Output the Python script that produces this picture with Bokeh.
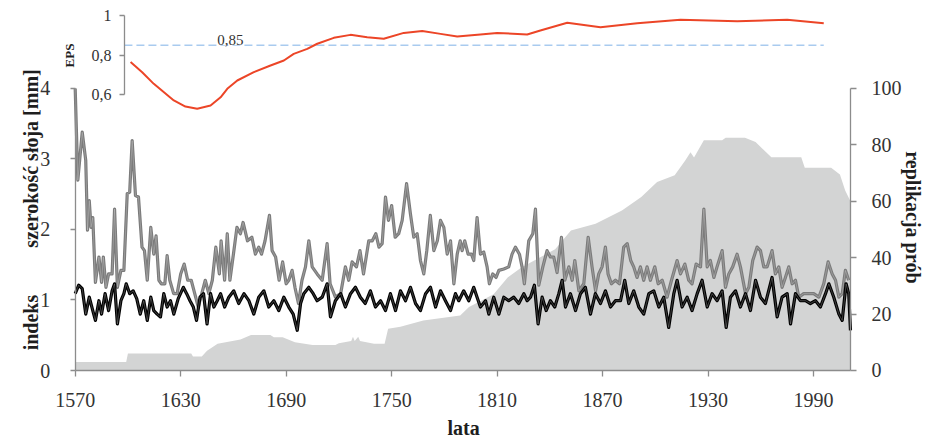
import math
from bokeh.plotting import figure
from bokeh.models import Range1d, LinearAxis, FixedTicker, CustomJSTickFormatter, Label
from bokeh.embed import file_html
from bokeh.resources import INLINE

# ---------------- data ----------------
rw_years = [
    1570, 1571.5, 1574, 1576, 1577, 1578, 1579, 1580, 1581.5, 1583.5,
    1585, 1586, 1587.5, 1589, 1591, 1592.4, 1594, 1596, 1597.7, 1599.6,
    1601, 1602.4, 1604.3, 1606, 1608, 1609.4, 1611, 1613, 1614.7, 1616,
    1617.6, 1619, 1621, 1622.3, 1623.8, 1626, 1628, 1630, 1632, 1634,
    1636, 1638, 1640, 1642, 1644, 1646, 1648, 1650, 1652, 1653,
    1655, 1656.5, 1658, 1660, 1662, 1664, 1665.5, 1668, 1670.5, 1672.5,
    1674.4, 1676, 1678, 1680.5, 1682, 1684, 1686, 1688, 1690, 1691.5,
    1693.4, 1695, 1697, 1699, 1701, 1702.9, 1704.8, 1707.6, 1710.5, 1713.3,
    1715, 1718, 1721, 1723.7, 1725.6, 1727.5, 1730, 1732, 1734, 1737,
    1739, 1741, 1742.8, 1744.6, 1746.5, 1748.2, 1750, 1752, 1754, 1756,
    1758.5, 1760.7, 1762.6, 1764.5, 1766.4, 1768.3, 1770, 1772, 1774, 1776,
    1777.8, 1779.7, 1781.6, 1783.5, 1785.4, 1787.3, 1789, 1790.1, 1791.6, 1793.5,
    1795.4, 1796.7, 1798.6, 1800.5, 1802.4, 1804.3, 1805.6, 1807.5, 1809.4, 1811,
    1813.8, 1816.6, 1818.5, 1820.4, 1822.7, 1824.2, 1825.5, 1828, 1830.3, 1831.8,
    1833.7, 1836, 1838.4, 1840.3, 1842.2, 1844.1, 1846.6, 1848.5, 1850.8, 1852.7,
    1854.2, 1856.5, 1859.3, 1861.8, 1864, 1866, 1867.8, 1869.7, 1871.6, 1873.1,
    1875, 1877.3, 1879.6, 1882, 1884, 1886, 1887.7, 1889.6, 1891.5, 1893.4,
    1895.3, 1897.2, 1899.7, 1901.6, 1903.9, 1906.7, 1909.2, 1912.4, 1914.3, 1916.8,
    1919, 1920.9, 1923.2, 1925.7, 1927.6, 1929.5, 1931.3, 1933.3, 1935.1, 1938,
    1939.9, 1941.8, 1944, 1946.5, 1948.4, 1951.3, 1953.2, 1955.4, 1957.9, 1959.8,
    1961.7, 1963.6, 1966.4, 1968.3, 1970.2, 1972.1, 1974, 1975.9, 1977.8, 1979.7,
    1981.6, 1984.4, 1987.3, 1990.1, 1993, 1995.8, 1998.3, 2000.6, 2002.5, 2004.4,
    2006.3, 2008.1, 2010,
]
ring_width = [
    4.0, 2.7, 3.38, 2.98, 1.99, 2.41, 2.03, 2.17, 1.25, 1.61,
    1.25, 1.61, 1.18, 1.37, 1.37, 2.29, 1.18, 1.42, 1.42, 2.51,
    2.53, 3.26, 2.48, 2.46, 1.75, 1.70, 1.28, 2.03, 1.65, 1.91,
    1.28, 1.23, 1.23, 1.63, 1.28, 1.09, 1.09, 1.37, 1.51, 1.28,
    1.28, 1.09, 0.90, 1.09, 1.28, 1.09, 1.28, 1.75, 1.37, 1.84,
    1.28, 1.94, 1.28, 1.65, 2.03, 1.94, 2.10, 1.84, 1.89, 1.65,
    1.75, 1.65, 1.84, 2.20, 1.70, 1.61, 1.28, 1.54, 1.23, 1.28,
    1.42, 1.18, 0.95, 1.28, 1.47, 1.84, 1.47, 1.37, 1.28, 1.80,
    1.23, 1.04, 1.09, 1.47, 1.28, 1.54, 1.47, 1.70, 1.37, 1.84,
    1.84, 1.94, 1.75, 1.80, 2.46, 2.13, 2.34, 1.89, 1.94, 2.13,
    2.65, 2.22, 1.89, 1.94, 1.56, 1.37, 1.70, 2.20, 1.70, 1.84,
    2.13, 2.03, 1.65, 1.84, 1.23, 1.65, 1.84, 1.70, 1.84, 1.65,
    1.65, 1.56, 2.17, 1.65, 1.68, 1.47, 1.23, 1.37, 1.32, 1.42,
    1.44, 1.47, 1.65, 1.75, 1.65, 1.47, 1.23, 1.84, 1.94, 2.29,
    1.21, 1.47, 1.70, 1.61, 1.61, 1.39, 1.89, 1.28, 1.47, 1.28,
    1.56, 1.13, 1.23, 1.89, 1.47, 1.13, 1.37, 1.47, 1.75, 1.37,
    1.23, 1.28, 1.23, 1.75, 1.80, 1.56, 1.47, 1.32, 1.47, 1.28,
    1.47, 1.28, 1.47, 1.23, 1.28, 1.04, 1.28, 1.56, 1.37, 1.51,
    1.28, 1.23, 1.51, 1.47, 2.29, 1.47, 1.56, 1.32, 1.47, 1.70,
    1.18, 1.37, 1.47, 1.65, 1.47, 1.09, 1.18, 1.56, 1.75, 1.70,
    1.47, 1.47, 1.70, 1.37, 1.47, 1.18, 1.32, 1.47, 1.23, 1.28,
    1.04, 1.09, 1.09, 1.09, 1.04, 1.23, 1.54, 1.37, 1.28, 1.04,
    1.09, 1.42, 1.28,
]

idx_years = [
    1570, 1572, 1574, 1576, 1578, 1580, 1581.5, 1583.5, 1585, 1587,
    1589, 1591, 1592.4, 1594, 1596, 1597.7, 1599, 1601, 1603, 1605,
    1607, 1609, 1611, 1613, 1614.7, 1616.6, 1618.5, 1620.4, 1622.3, 1624.2,
    1626.1, 1628.6, 1631.5, 1633.4, 1635.3, 1637.2, 1639, 1641, 1643, 1645,
    1647, 1648.9, 1650.8, 1652.7, 1655, 1657.4, 1660.2, 1663, 1666, 1668.8,
    1671.6, 1674.4, 1677.3, 1680.1, 1683, 1685.8, 1688.7, 1691.5, 1694, 1696.3,
    1698.2, 1700, 1702.9, 1705.4, 1707.6, 1710.5, 1713.3, 1715.2, 1718, 1721,
    1723.7, 1726.6, 1729.4, 1732.2, 1735, 1737.9, 1740.8, 1743.7, 1746.5, 1749.3,
    1752.2, 1755, 1757.9, 1760.7, 1763.6, 1766.4, 1769.3, 1772.1, 1775, 1777.8,
    1780.6, 1783.5, 1786.3, 1788.2, 1791, 1793.9, 1796.7, 1798.6, 1800.5, 1803.4,
    1805.3, 1808.1, 1811, 1813.8, 1816.6, 1819.5, 1822.3, 1825.2, 1827.1, 1829,
    1831.2, 1833.3, 1835.6, 1837.9, 1840.3, 1842.8, 1845.1, 1847, 1848.9, 1851.7,
    1854.6, 1857.4, 1860.2, 1863.1, 1865.9, 1868.8, 1871.6, 1874.5, 1877.3, 1880.2,
    1882.6, 1884.9, 1887.7, 1890.6, 1893.4, 1896.3, 1899.1, 1902, 1904.8, 1907.6,
    1910.5, 1912.4, 1915.2, 1918.1, 1920.9, 1923.8, 1926.6, 1929.5, 1932.3, 1935.1,
    1938, 1940.3, 1942.7, 1945.6, 1948.4, 1951.3, 1954.1, 1957, 1959.8, 1962.6,
    1966.4, 1969.3, 1972.1, 1975, 1976.9, 1979.7, 1982.5, 1985.4, 1988.2, 1991.1,
    1993.9, 1996.8, 1998.7, 2001.5, 2004.4, 2006.3, 2008.5, 2010, 2011,
]
index_vals = [
    1.09, 1.21, 1.16, 0.80, 1.04, 0.85, 0.71, 0.99, 0.80, 1.09,
    0.85, 1.13, 1.23, 0.66, 0.99, 1.09, 1.23, 1.09, 1.13, 1.02,
    0.80, 0.99, 0.71, 1.04, 0.85, 0.80, 0.76, 1.09, 0.90, 0.99,
    0.80, 1.02, 1.18, 1.09, 0.99, 0.90, 0.71, 1.04, 1.09, 0.66,
    1.09, 0.90, 0.99, 1.09, 0.90, 1.04, 1.13, 0.95, 1.09, 0.99,
    0.80, 1.04, 1.13, 0.90, 0.99, 0.85, 1.04, 0.90, 0.80, 0.57,
    0.95, 1.09, 1.18, 1.09, 0.99, 1.04, 1.23, 0.76, 0.99, 1.09,
    0.90, 1.09, 1.18, 1.04, 0.95, 1.13, 0.90, 0.99, 0.85, 1.09,
    0.85, 1.13, 0.99, 1.18, 0.95, 0.85, 1.09, 1.18, 0.90, 1.13,
    0.99, 0.85, 1.09, 0.99, 1.13, 0.99, 1.18, 1.04, 0.90, 0.99,
    0.80, 1.04, 0.80, 1.04, 0.99, 1.04, 0.95, 1.09, 0.99, 1.04,
    1.21, 0.66, 1.04, 0.85, 0.99, 0.90, 1.09, 1.28, 0.90, 1.09,
    0.85, 1.09, 1.18, 0.80, 1.09, 0.95, 1.13, 0.90, 0.99, 0.99,
    1.28, 0.95, 1.13, 0.90, 0.80, 1.09, 1.13, 0.90, 1.04, 0.61,
    1.09, 1.28, 0.90, 1.04, 0.85, 1.09, 1.28, 0.90, 1.09, 0.99,
    1.13, 0.61, 1.04, 1.13, 0.90, 1.09, 0.85, 1.28, 1.04, 0.95,
    1.32, 0.76, 1.04, 1.09, 0.66, 1.09, 0.99, 0.99, 0.95, 0.99,
    0.90, 1.09, 1.23, 1.04, 0.80, 0.71, 1.23, 1.09, 0.57,
]

rep_years = [
    1570, 1599, 1600, 1636, 1637, 1642, 1645, 1651, 1664, 1670,
    1681, 1683, 1688, 1695, 1705, 1718, 1720, 1727, 1728, 1729,
    1731, 1732, 1740, 1746, 1748, 1755, 1768, 1789, 1794, 1808,
    1816, 1824, 1843, 1852, 1866, 1881, 1892, 1901, 1911, 1917,
    1920, 1922, 1927.6, 1938, 1940, 1951, 1957, 1966, 1983, 1985,
    2000, 2005, 2008, 2011,
]
replication = [
    3, 3, 6, 6, 5, 5, 7, 9.5, 11, 12.6,
    12.6, 11.8, 11.8, 10, 9, 9, 9.7, 10.5, 12, 10.5,
    12, 10.5, 9.5, 9.5, 14.8, 15.5, 17.7, 19.5, 22.5, 27,
    33, 36.6, 43, 49.6, 52, 56.7, 61.5, 66.8, 69.2, 74.5,
    77.4, 75.5, 81.6, 81.6, 82.5, 82.5, 81, 75.6, 75.6, 71.9,
    71.9, 69.5, 63.8, 60,
]

eps_years = [1601.5, 1608.1, 1614.7, 1626.1, 1632.7, 1639.4, 1647, 1652.7,
             1656.5, 1662.2, 1671.6, 1681.1, 1688.7, 1694.3, 1702, 1707.7,
             1717.1, 1726.6, 1736.1, 1745.5, 1756.9, 1767.4, 1777.8, 1787.3,
             1800.5, 1810, 1827.1, 1834.6, 1849.9, 1868.8, 1889.7, 1914.3,
             1946.6, 1975, 1995.8]
eps_vals = [0.764, 0.713, 0.654, 0.570, 0.539, 0.528, 0.544, 0.586,
            0.629, 0.671, 0.713, 0.747, 0.772, 0.806, 0.831, 0.857,
            0.887, 0.902, 0.890, 0.882, 0.912, 0.921, 0.907, 0.894,
            0.904, 0.912, 0.904, 0.924, 0.963, 0.941, 0.961, 0.978,
            0.971, 0.978, 0.961]
eps_threshold = 0.85
threshold_years = [1598, 1995.8]

x_ticks = [1570, 1630, 1690, 1750, 1810, 1870, 1930, 1990]
width_ticks = [0, 1, 2, 3, 4]
rep_ticks = [0, 20, 40, 60, 80, 100]
eps_ticks = [0.6, 0.8, 1.0]

# ---------------- figure ----------------
FONT = "Liberation Serif"
AX = "#8c8c8c"
TXT = "#333333"
TITLE = "#1e1e1e"

p = figure(width=931, height=441, output_backend="svg", toolbar_location=None,
           x_range=Range1d(1527.51, 2057.09), y_range=Range1d(-1.007, 5.248),
           min_border_left=0, min_border_right=0, min_border_top=0,
           min_border_bottom=0, title=None)
p.extra_y_ranges = {"rep": Range1d(-25.18, 131.2), "eps": Range1d(-1.157, 1.076)}
p.grid.visible = False
p.outline_line_color = None
p.background_fill_color = "white"
p.border_fill_color = "white"


def style(ax, size="20px"):
    ax.axis_line_color = AX
    ax.axis_line_width = 1.3
    ax.major_tick_line_color = AX
    ax.major_tick_line_width = 1.3
    ax.minor_tick_line_color = None
    ax.major_tick_in = 0
    ax.major_tick_out = 6
    ax.major_label_text_font = FONT
    ax.major_label_text_font_size = size
    ax.major_label_text_color = TXT


xa = p.xaxis[0]
style(xa)
xa.ticker = FixedTicker(ticks=x_ticks)
xa.bounds = (1570, 2011)
xa.fixed_location = 0
xa.major_label_standoff = 16

ya = p.yaxis[0]
style(ya)
ya.ticker = FixedTicker(ticks=width_ticks)
ya.bounds = (0, 4)
ya.fixed_location = 1570
ya.major_tick_out = 5
ya.major_label_standoff = 20

ra = LinearAxis(y_range_name="rep", fixed_location=2011)
style(ra)
ra.ticker = FixedTicker(ticks=rep_ticks)
ra.bounds = (0, 100)
ra.major_label_standoff = 15
p.add_layout(ra, "right")

ea = LinearAxis(y_range_name="eps", fixed_location=1598)
style(ea, "16px")
ea.ticker = FixedTicker(ticks=eps_ticks)
ea.bounds = (0.6, 1.0)
ea.major_tick_out = 5
ea.major_label_standoff = 8
ea.formatter = CustomJSTickFormatter(
    code="var s = tick.toFixed(1).replace('.', ','); return s.replace(',0', '');")
p.add_layout(ea, "left")

# replication area
p.varea(x=rep_years, y1=[0] * len(rep_years), y2=replication,
        y_range_name="rep", fill_color="#d3d4d4")

# ring width (gray) and index (black)
p.line(rw_years, ring_width, line_color="#7b7b7b", line_width=3.2, line_join="round")
p.line(rw_years, ring_width, line_color="white", line_width=0.8, line_alpha=0.3)
p.line(idx_years, index_vals, line_color="black", line_width=3.2, line_join="round")
p.line(idx_years, index_vals, line_color="white", line_width=0.8, line_alpha=0.3)

# EPS inset
p.line(threshold_years, [eps_threshold] * len(threshold_years), y_range_name="eps",
       line_color="#a9cbef", line_width=1.5, line_dash="8 4")
p.line(eps_years, eps_vals, y_range_name="eps", line_color="#ec4527", line_width=2,
       line_join="round")

p.add_layout(Label(x=1658.3, y=eps_threshold, y_range_name="eps", text="0,85",
                   text_align="center", text_baseline="bottom",
                   text_font=FONT, text_font_size="15px", text_color=TXT,
                   background_fill_color="white"))
p.add_layout(Label(x=1566.8, y=4.468, text="EPS", angle=math.pi / 2,
                   text_align="center", text_baseline="middle", text_font=FONT,
                   text_font_size="13px", text_font_style="bold", text_color=TITLE))

for txt, xx, yy, ang in [("szerokość słoja [mm]", 1544.6, 3.007, math.pi / 2),
                         ("indeks", 1544.6, 0.68, math.pi / 2),
                         ("replikacja prób", 2046.3, 2.17, -math.pi / 2),
                         ("lata", 1790.9, -0.81, 0)]:
    p.add_layout(Label(x=xx, y=yy, text=txt, angle=ang, text_align="center",
                       text_baseline="middle", text_font=FONT, text_font_size="20px",
                       text_font_style="bold", text_color=TITLE))

open("out.html", "w").write(file_html(p, INLINE))
